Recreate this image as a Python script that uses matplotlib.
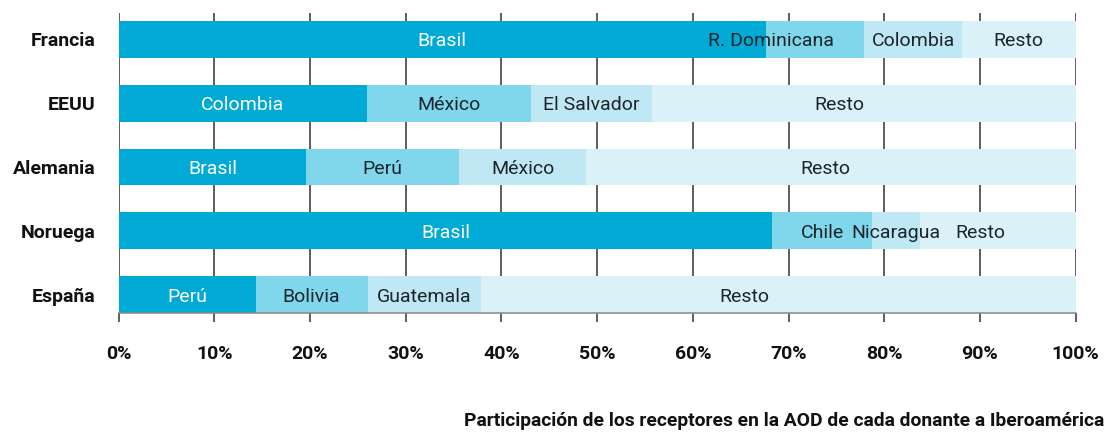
import matplotlib
matplotlib.use("Agg")
import matplotlib.pyplot as plt
import numpy as np

plt.rcParams["font.family"] = ["Roboto", "DejaVu Sans"]

# Donors, top to bottom
donors = ["Francia", "EEUU", "Alemania", "Noruega", "España"]

# Recipients of each donor's aid (ordered by share), last one is always "Resto"
recipients = [
    ["Brasil", "R. Dominicana", "Colombia", "Resto"],
    ["Colombia", "México", "El Salvador", "Resto"],
    ["Brasil", "Perú", "México", "Resto"],
    ["Brasil", "Chile", "Nicaragua", "Resto"],
    ["Perú", "Bolivia", "Guatemala", "Resto"],
]

# Share of each recipient (%)
shares = [
    [67.6, 10.3, 10.2, 11.9],
    [25.9, 17.2, 12.6, 44.3],
    [19.6, 16.0, 13.2, 51.2],
    [68.3, 10.4, 5.0, 16.3],
    [14.3, 11.7, 11.9, 62.1],
]

x_ticks = np.arange(0, 101, 10)
x_tick_labels = [f"{t}%" for t in x_ticks]
x_title = "Participación de los receptores en la AOD de cada donante a Iberoamérica"

# Segment colours by rank, and text colours on top of them
seg_colors = ["#00aad4", "#80d6eb", "#bfe8f4", "#daf1f7"]
txt_colors = ["white", "#1c252b", "#1c252b", "#1c252b"]

# Hand-placed label centres (in %) for labels not set at their segment's middle
label_center_override = {
    (0, 1): 68.2,
    (1, 3): 75.3,
    (2, 3): 73.8,
    (3, 3): 90.0,
    (4, 3): 65.4,
}

fig = plt.figure(figsize=(11.08, 4.32), dpi=100)
ax = fig.add_axes([118.7 / 1108, 1 - 313 / 432, 957 / 1108, 300 / 432])

ypos = np.arange(len(donors))
bar_h = 0.58

# Vertical grid lines behind the bars
for t in x_ticks:
    ax.axvline(t, color="#333333", lw=1.1, zorder=0)

for i, (names, vals) in enumerate(zip(recipients, shares)):
    left = 0.0
    for j, (name, v) in enumerate(zip(names, vals)):
        ax.barh(ypos[i], v, left=left, height=bar_h, color=seg_colors[j],
                edgecolor="none", zorder=2)
        cx = label_center_override.get((i, j), left + v / 2)
        ax.text(cx, ypos[i], name, ha="center", va="center_baseline",
                fontsize=14, fontweight="normal", color=txt_colors[j], zorder=3)
        left += v

ax.set_xlim(0, 100)
ax.set_ylim(4 + 18.5 / 63.75, -26.5 / 63.75)

ax.set_xticks(x_ticks)
ax.set_xticklabels(x_tick_labels, fontsize=14, fontweight="bold", color="#111111")
ax.tick_params(axis="x", direction="out", length=6.5, width=1.1,
               color="#333333", pad=16.5)

ax.set_yticks(ypos)
ax.set_yticklabels(donors, fontsize=14, fontweight="bold", color="#111111")
ax.tick_params(axis="y", length=0, pad=16.5)

for side in ("top", "left", "right"):
    ax.spines[side].set_visible(False)
ax.spines["bottom"].set_color("#888888")
ax.spines["bottom"].set_linewidth(1.1)
ax.spines["bottom"].set_zorder(4)

fig.text(1104 / 1108, 1 - 421 / 432, x_title, ha="right", va="center",
         fontsize=13.9, fontweight="bold", color="#111111")

fig.savefig("out.png", dpi=100)
